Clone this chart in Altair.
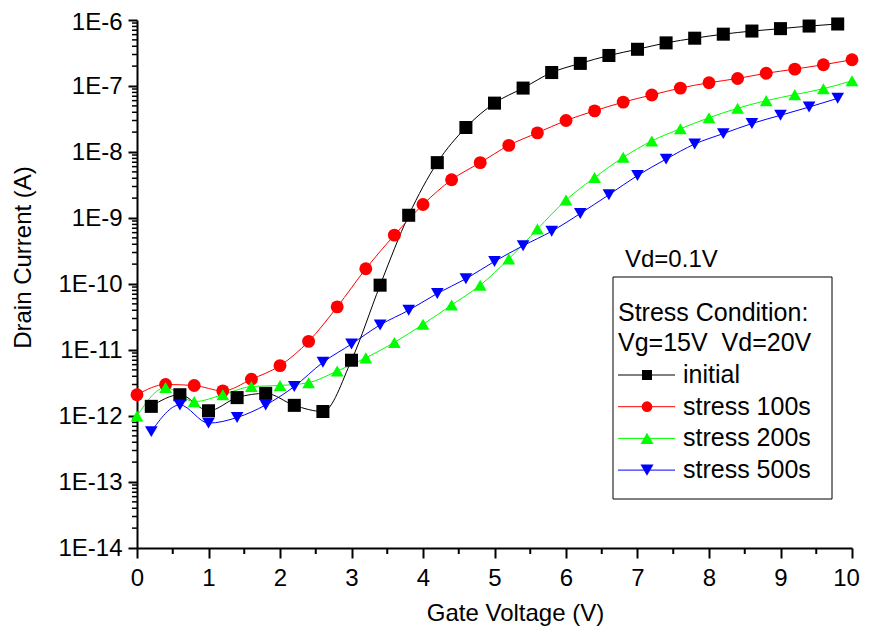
import altair as alt
import pandas as pd

# ---- data ----
series_names = ["initial", "stress 100s", "stress 200s", "stress 500s"]
series_colors = ["#000000", "#FF0000", "#00FF00", "#0000FF"]
series_shapes = ["square", "circle", "triangle-up", "triangle-down"]

x_initial = [0.2, 0.6, 1.0, 1.4, 1.8, 2.2, 2.6, 3.0, 3.4, 3.8, 4.2, 4.6, 5.0,
             5.4, 5.8, 6.2, 6.6, 7.0, 7.4, 7.8, 8.2, 8.6, 9.0, 9.4, 9.8]
y_initial = [1.4e-12, 2.1e-12, 1.2e-12, 1.9e-12, 2.2e-12, 1.45e-12, 1.17e-12,
             7.0e-12, 9.6e-11, 1.1e-9, 6.9e-9, 2.35e-8, 5.5e-8, 9.3e-8, 1.6e-7,
             2.2e-7, 2.9e-7, 3.6e-7, 4.5e-7, 5.3e-7, 6.1e-7, 6.8e-7, 7.4e-7,
             8.1e-7, 8.7e-7]

x_100 = [0.0, 0.4, 0.8, 1.2, 1.6, 2.0, 2.4, 2.8, 3.2, 3.6, 4.0, 4.4, 4.8,
         5.2, 5.6, 6.0, 6.4, 6.8, 7.2, 7.6, 8.0, 8.4, 8.8, 9.2, 9.6, 10.0]
y_100 = [2.1e-12, 3.0e-12, 2.9e-12, 2.4e-12, 3.6e-12, 5.8e-12, 1.35e-11,
         4.5e-11, 1.7e-10, 5.5e-10, 1.6e-9, 3.8e-9, 6.9e-9, 1.26e-8, 1.95e-8,
         3.0e-8, 4.2e-8, 5.7e-8, 7.3e-8, 9.3e-8, 1.12e-7, 1.3e-7, 1.56e-7,
         1.8e-7, 2.1e-7, 2.5e-7]

x_200 = [0.0, 0.4, 0.8, 1.2, 1.6, 2.0, 2.4, 2.8, 3.2, 3.6, 4.0, 4.4, 4.8,
         5.2, 5.6, 6.0, 6.4, 6.8, 7.2, 7.6, 8.0, 8.4, 8.8, 9.2, 9.6, 10.0]
y_200 = [1.0e-12, 2.7e-12, 1.65e-12, 2.1e-12, 2.8e-12, 2.9e-12, 3.2e-12,
         4.8e-12, 7.6e-12, 1.3e-11, 2.45e-11, 4.8e-11, 9.6e-11, 2.4e-10,
         6.8e-10, 1.87e-9, 4.1e-9, 8.3e-9, 1.47e-8, 2.25e-8, 3.3e-8, 4.6e-8,
         6.0e-8, 7.4e-8, 9.1e-8, 1.2e-7]

x_500 = [0.2, 0.6, 1.0, 1.4, 1.8, 2.2, 2.6, 3.0, 3.4, 3.8, 4.2, 4.6, 5.0,
         5.4, 5.8, 6.2, 6.6, 7.0, 7.4, 7.8, 8.2, 8.6, 9.0, 9.4, 9.8]
y_500 = [5.8e-13, 1.47e-12, 7.8e-13, 9.5e-13, 1.47e-12, 2.8e-12, 6.5e-12,
         1.23e-11, 2.4e-11, 4.0e-11, 7.2e-11, 1.2e-10, 2.2e-10, 3.8e-10,
         6.3e-10, 1.17e-9, 2.25e-9, 4.4e-9, 7.8e-9, 1.32e-8, 1.9e-8, 2.7e-8,
         3.6e-8, 4.8e-8, 6.5e-8]

x_major_ticks = list(range(0, 11))
x_minor_ticks = [i + 0.5 for i in range(10)]
y_decades = list(range(-14, -5))

# ---- build table ----
frames = []
for name, xs, ys in zip(series_names,
                        [x_initial, x_100, x_200, x_500],
                        [y_initial, y_100, y_200, y_500]):
    frames.append(pd.DataFrame({"Vg": xs, "Id": ys, "series": name}))
df = pd.concat(frames, ignore_index=True)

y_major = [10.0 ** d for d in y_decades]
y_minor = [k * 10.0 ** d for d in y_decades[:-1] for k in range(2, 10)]

FONT = "Liberation Sans"
FS = 24
W, H = 715, 528

x_scale = alt.Scale(domain=[0, 10], nice=False, zero=False)
y_scale = alt.Scale(type="log", domain=[1e-14, 1e-6], nice=False)
color_scale = alt.Scale(domain=series_names, range=series_colors)
shape_scale = alt.Scale(domain=series_names, range=series_shapes)
size_scale = alt.Scale(domain=series_names, range=[170, 160, 250, 250])

x_axis = alt.Axis(values=x_major_ticks, format="d", orient="bottom",
                  tickSize=10, tickWidth=2, domainWidth=2, labelPadding=8,
                  labelFlush=False,
                  labelOffset={"expr": "datum.value == 10 ? -6 : 0"},
                  labelFont=FONT, labelFontSize=FS, labelColor="black",
                  domainColor="black", tickColor="black", grid=False,
                  title="Gate Voltage (V)", titleFont=FONT, titleFontSize=FS,
                  titleFontWeight="normal", titleColor="black",
                  titleX=378, titleY=72, titleAlign="center",
                  titleBaseline="alphabetic")
y_axis = alt.Axis(values=y_major, orient="left",
                  labelExpr="'1E' + round(log(datum.value) / LN10)",
                  labelOffset={"expr": "datum.value > 5e-7 ? 2 : 0"},
                  tickSize=9, tickWidth=2, domainWidth=2, labelPadding=6,
                  labelFlush=False,
                  labelFont=FONT, labelFontSize=FS, labelColor="black",
                  domainColor="black", tickColor="black", grid=False,
                  title="Drain Current (A)", titleFont=FONT, titleFontSize=FS,
                  titleFontWeight="normal", titleColor="black",
                  titleX=-107, titleY=237, titleAlign="center",
                  titleBaseline="alphabetic", titleAngle=270)

lines = alt.Chart(df).mark_line(strokeWidth=1, interpolate="monotone").encode(
    x=alt.X("Vg:Q", scale=x_scale, axis=x_axis),
    y=alt.Y("Id:Q", scale=y_scale, axis=y_axis),
    color=alt.Color("series:N", scale=color_scale, legend=None),
    detail="series:N",
    order=alt.Order("Vg:Q"),
)

points = alt.Chart(df).mark_point(filled=True, opacity=1, strokeWidth=0).encode(
    x=alt.X("Vg:Q", scale=x_scale),
    y=alt.Y("Id:Q", scale=y_scale),
    color=alt.Color("series:N", scale=color_scale, legend=None),
    shape=alt.Shape("series:N", scale=shape_scale, legend=None),
    size=alt.Size("series:N", scale=size_scale, legend=None),
)

# minor ticks drawn as short rules just outside the axes
y_minor_ticks = alt.Chart(pd.DataFrame({"Id": y_minor})).mark_rule(
    color="black", strokeWidth=1.5).encode(
    y=alt.Y("Id:Q", scale=y_scale), x=alt.value(-5), x2=alt.value(0))
x_minor_tick_marks = alt.Chart(pd.DataFrame({"Vg": x_minor_ticks})).mark_rule(
    color="black", strokeWidth=2).encode(
    x=alt.X("Vg:Q", scale=x_scale), y=alt.value(H), y2=alt.value(H + 6))

# ---- hand-drawn legend (layout only) ----
one = pd.DataFrame({"k": [0]})
legend_layers = []
legend_layers.append(alt.Chart(one).mark_text(
    text="Vd=0.1V", align="left", baseline="alphabetic", font=FONT, fontSize=FS,
    color="black").encode(x=alt.value(488), y=alt.value(247)))
legend_layers.append(alt.Chart(one).mark_rect(
    fill="white", fillOpacity=0, stroke="black", strokeWidth=1).encode(
    x=alt.value(476), x2=alt.value(695), y=alt.value(257), y2=alt.value(479)))
legend_layers.append(alt.Chart(one).mark_text(
    text="Stress Condition:", align="left", baseline="alphabetic", font=FONT,
    fontSize=25, color="black").encode(x=alt.value(481), y=alt.value(301)))
legend_layers.append(alt.Chart(one).mark_text(
    text="Vg=15V\u00a0 Vd=20V", align="left", baseline="alphabetic", font=FONT,
    fontSize=25, color="black").encode(x=alt.value(481), y=alt.value(331)))

legend_sizes = [100, 115, 170, 170]
row_y0, row_dy = 355, 31.7
for i, (name, col, shp, sz) in enumerate(zip(series_names, series_colors,
                                              series_shapes, legend_sizes)):
    cy = row_y0 + i * row_dy
    legend_layers.append(alt.Chart(one).mark_rule(color=col, strokeWidth=1).encode(
        x=alt.value(481), x2=alt.value(538), y=alt.value(cy)))
    legend_layers.append(alt.Chart(one).mark_point(
        filled=True, opacity=1, strokeWidth=0, shape=shp, size=sz, color=col).encode(
        x=alt.value(510), y=alt.value(cy)))
    legend_layers.append(alt.Chart(one).mark_text(
        text=name, align="left", baseline="alphabetic", font=FONT, fontSize=25,
        color="black").encode(x=alt.value(546), y=alt.value(cy + 8)))

chart = alt.layer(lines, y_minor_ticks, x_minor_tick_marks, points,
                  *legend_layers).properties(
    width=W, height=H,
    autosize=alt.AutoSizeParams(type="none"),
    padding={"left": 129, "top": 12, "right": 9, "bottom": 82},
    background="white",
).configure_view(strokeWidth=0)

chart.save("out.html", embed_options={"renderer": "svg", "actions": False})
